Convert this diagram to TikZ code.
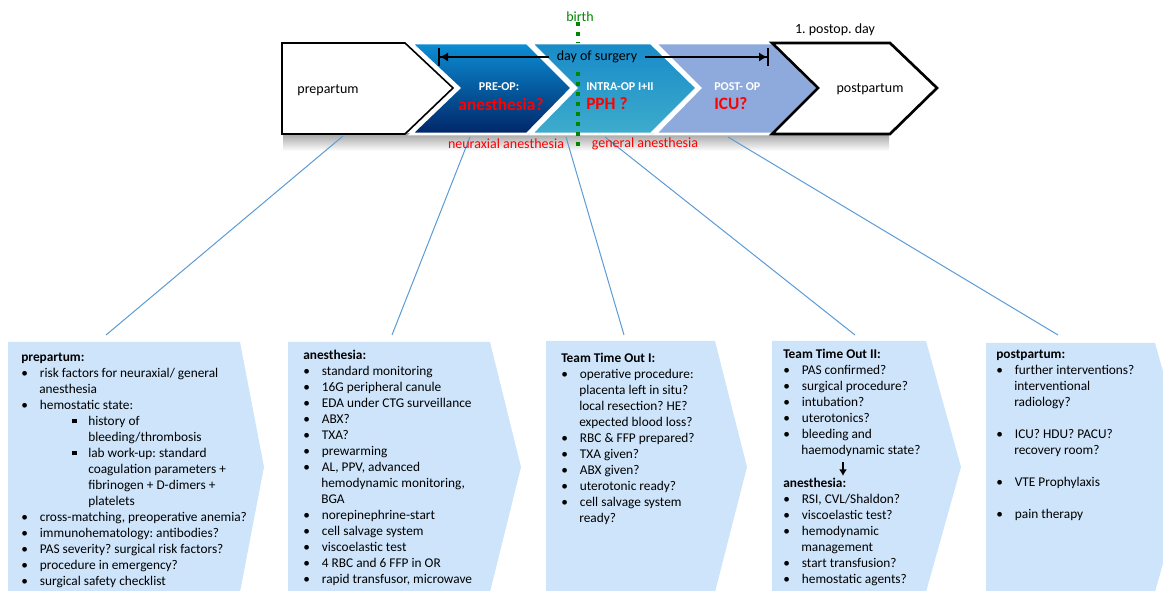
\documentclass[tikz,border=0pt]{standalone}
\usepackage{fontspec}
\setmainfont{Carlito}
\usepackage{enumitem}
\usepackage{tikz}
\usepackage{xcolor}
\usetikzlibrary{arrows.meta}
\frenchspacing

\definecolor{listblue}{RGB}{205,228,250}
\definecolor{linkblue}{RGB}{91,155,213}
\definecolor{preoptop}{RGB}{12,142,212}
\definecolor{preopmid}{RGB}{8,100,178}
\definecolor{preopbot}{RGB}{0,38,104}
\definecolor{intratop}{RGB}{24,138,200}
\definecolor{intrabot}{RGB}{62,172,204}
\definecolor{postopblue}{RGB}{142,169,219}
\definecolor{birthgreen}{RGB}{0,135,0}

\setlist[itemize,1]{label=\textbullet, leftmargin=13.5pt, labelwidth=4.5pt, labelsep=9pt, align=left,
    topsep=0pt, partopsep=0pt, itemsep=0pt, parsep=0pt}
\setlist[itemize,2]{label=\raisebox{1.5pt}{\rule{3.5pt}{3.5pt}}, leftmargin=36.75pt, labelwidth=4pt, labelsep=8pt, align=left,
    topsep=0pt, partopsep=0pt, itemsep=0pt, parsep=0pt}

\tikzset{
    list-box/.style = {fill=listblue},
    list-text/.style = {anchor=north west, inner sep=0pt, font=\fontsize{10pt}{12pt}\selectfont},
    white-phase/.style = {draw=black, fill=white, line join=miter},
    colour-phase/.style = {draw=white, line width=2pt, line join=miter},
    phase-title/.style = {text=white, inner sep=0pt, font=\fontsize{9pt}{10pt}\selectfont\bfseries},
    phase-question/.style = {text=red, inner sep=0pt, font=\fontsize{13pt}{15pt}\selectfont\bfseries},
    plain-label/.style = {inner sep=0pt, font=\fontsize{10.5pt}{12pt}\selectfont},
    red-label/.style = {plain-label, text=red},
    link-line/.style = {draw=linkblue, line width=0.75pt},
    birth-line/.style = {draw=birthgreen, line width=3pt, dash pattern=on 3pt off 4.5pt},
    span-arrow/.style = {line width=1.5pt, -{Latex[length=6pt,width=7pt] Bar[width=13pt]}},
    down-arrow/.style = {line width=1.5pt, -{Latex[length=5pt,width=6pt]}, shorten <=4pt},
}

\begin{document}
\begin{tikzpicture}[x=0.75pt, y=-0.75pt]
\useasboundingbox (0,0) rectangle (1163,591);

% shadow under the time line
\shade[top color=black!35, bottom color=white] (283,134) rectangle (889,151);

% links down to the checklists
\coordinate (prep-foot) at (343,136);
\coordinate (preop-foot) at (470,137);
\coordinate (intra-foot) at (566,137);
\coordinate (general-foot) at (605,137);
\coordinate (post-foot) at (728,137);
\coordinate (prep-top) at (106,335);
\coordinate (anes-top) at (392,335);
\coordinate (tto1-top) at (624,335);
\coordinate (tto2-top) at (855,335);
\coordinate (postp-top) at (1058,335);
\draw[link-line] (prep-foot) -- (prep-top);
\draw[link-line] (preop-foot) -- (anes-top);
\draw[link-line] (intra-foot) -- (tto1-top);
\draw[link-line] (general-foot) -- (tto2-top);
\draw[link-line] (post-foot) -- (postp-top);

% time line
\path[white-phase, line width=1.2pt] (282,43) -- (405,43) -- (453,88) -- (405,134) -- (282,134) -- cycle;
\path[colour-phase, top color=preoptop, middle color=preopmid, bottom color=preopbot]
    (411,43) -- (527,43) -- (572,88) -- (527,134) -- (411,134) -- (459,88) -- cycle;
\path[colour-phase, top color=intratop, bottom color=intrabot]
    (531,43) -- (651,43) -- (697,88) -- (651,134) -- (531,134) -- (576,88) -- cycle;
\path[colour-phase, fill=postopblue]
    (655,43) -- (772,43) -- (818,88) -- (772,134) -- (655,134) -- (700,88) -- cycle;
\path[white-phase, line width=2pt] (772,43) -- (890,43) -- (937,88) -- (890,134) -- (772,134) -- (818,88) -- cycle;

\node[plain-label] (prepartum) at (328,90) {prepartum};
\node[plain-label] (postpartum) at (870,89) {postpartum};
\node[phase-title] (preop) at (499,87) {PRE-OP:};
\node[phase-question] (preop-q) at (501,104) {anesthesia?};
\node[phase-title, anchor=west] (intraop) at (586,87) {INTRA-OP I+II};
\node[phase-question, anchor=west] (intraop-q) at (586,104) {PPH ?};
\node[phase-title, anchor=west] (postop) at (714,87) {POST- OP};
\node[phase-question, anchor=west] (postop-q) at (714,104) {ICU?};
\node[plain-label] (postop-day) at (835,30) {1. postop. day};

% day of surgery span
\node[plain-label, inner xsep=6pt] (surgery-day) at (597,57) {day of surgery};
\coordinate (span-left) at (438,57);
\coordinate (span-right) at (769,57);
\draw[span-arrow] (surgery-day.west) -- (span-left);
\draw[span-arrow] (surgery-day.east) -- (span-right);

% birth
\node[plain-label, text=birthgreen] (birth) at (580,17) {birth};
\coordinate (birth-top) at (578,43);
\coordinate (birth-mid) at (578,72);
\coordinate (birth-end) at (578,152);
\draw[birth-line] (birth.south -| birth-top) -- (birth-top);
\draw[birth-line] (birth-mid) -- (birth-end);

\node[red-label] (neuraxial) at (506,144) {neuraxial anesthesia};
\node[red-label] (general) at (645,144) {general anesthesia};

% checklists
\fill[list-box] (8,342) -- (240,342) -- (264,467) -- (240,592) -- (8,592) -- cycle;
\fill[list-box] (288,342) -- (490,342) -- (521,467) -- (490,592) -- (288,592) -- cycle;
\fill[list-box] (546,341) -- (715,341) -- (747,467) -- (715,592) -- (546,592) -- cycle;
\fill[list-box] (772,341) -- (926,341) -- (961,467) -- (926,592) -- (772,592) -- cycle;
\fill[list-box] (986,343) -- (1155,343) -- (1190,467) -- (1155,592) -- (986,592) -- cycle;

\node[list-text] (prep-list) at (21,350) {\begin{minipage}[t]{176pt}\raggedright
    \strut\textbf{prepartum:}
    \begin{itemize}
    \item risk factors for neuraxial/ general\newline anesthesia
    \item hemostatic state:
        \begin{itemize}
        \item history of\newline bleeding/thrombosis
        \item lab work-up: standard\newline coagulation parameters +\newline fibrinogen + D-dimers +\newline platelets
        \end{itemize}
    \item cross-matching, preoperative anemia?
    \item immunohematology: antibodies?
    \item PAS severity? surgical risk factors?
    \item procedure in emergency?
    \item surgical safety checklist
    \end{itemize}
\end{minipage}};

\node[list-text] (anes-list) at (303,348) {\begin{minipage}[t]{140pt}\raggedright
    \strut\textbf{anesthesia:}
    \begin{itemize}
    \item standard monitoring
    \item 16G peripheral canule
    \item EDA under CTG surveillance
    \item ABX?
    \item TXA?
    \item prewarming
    \item AL, PPV, advanced\newline hemodynamic monitoring,\newline BGA
    \item norepinephrine-start
    \item cell salvage system
    \item viscoelastic test
    \item 4 RBC and 6 FFP in OR
    \item rapid transfusor, microwave
    \end{itemize}
\end{minipage}};

\node[list-text] (tto1-list) at (561,351) {\begin{minipage}[t]{118pt}\raggedright
    \strut\textbf{Team Time Out I:}
    \begin{itemize}
    \item operative procedure:\newline placenta left in situ?\newline local resection? HE?\newline expected blood loss?
    \item RBC \& FFP prepared?
    \item TXA given?
    \item ABX given?
    \item uterotonic ready?
    \item cell salvage system\newline ready?
    \end{itemize}
\end{minipage}};

\node[list-text] (tto2-list) at (783,347) {\begin{minipage}[t]{112pt}\raggedright
    \strut\textbf{Team Time Out II:}
    \begin{itemize}
    \item PAS confirmed?
    \item surgical procedure?
    \item intubation?
    \item uterotonics?
    \item bleeding and\newline haemodynamic state?
    \end{itemize}
\end{minipage}};

\node[list-text] (tto2-anes) at (783,476) {\begin{minipage}[t]{112pt}\raggedright
    \strut\textbf{anesthesia:}
    \begin{itemize}
    \item RSI, CVL/Shaldon?
    \item viscoelastic test?
    \item hemodynamic\newline management
    \item start transfusion?
    \item hemostatic agents?
    \end{itemize}
\end{minipage}};

\coordinate (tto2-arrow) at (843,0);
\draw[down-arrow] (tto2-list.south -| tto2-arrow) -- (tto2-anes.north -| tto2-arrow);

\node[list-text] (postp-list) at (996,347) {\begin{minipage}[t]{118pt}\raggedright
    \strut\textbf{postpartum:}
    \begin{itemize}[itemsep=12pt]
    \item further interventions?\newline interventional\newline radiology?
    \item ICU? HDU? PACU?\newline recovery room?
    \item VTE Prophylaxis
    \item pain therapy
    \end{itemize}
\end{minipage}};
\end{tikzpicture}
\end{document}
